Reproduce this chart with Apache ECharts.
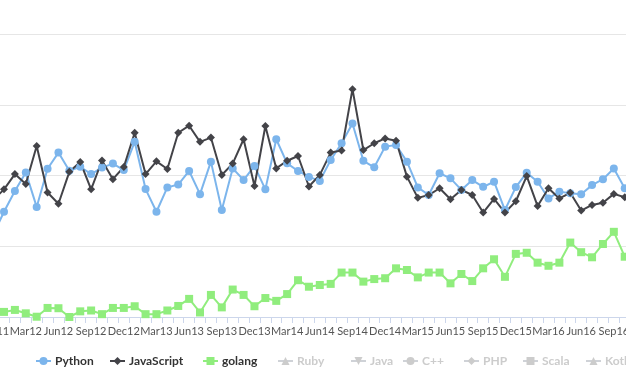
<!DOCTYPE html>
<html>
<head>
<meta charset="utf-8">
<script src="https://cdn.jsdelivr.net/npm/echarts@6/dist/echarts.min.js"></script>
<style>
html,body{margin:0;padding:0;width:626px;height:389px;overflow:hidden;background:#fff;position:relative;}
#c{position:absolute;left:-40px;top:0;width:700px;height:389px;}
</style>
</head>
<body>
<div id="c"></div>
<script>
const categories = ["Dec11",
 "Jan12","Feb12","Mar12","Apr12","May12","Jun12","Jul12","Aug12","Sep12","Oct12","Nov12","Dec12",
 "Jan13","Feb13","Mar13","Apr13","May13","Jun13","Jul13","Aug13","Sep13","Oct13","Nov13","Dec13",
 "Jan14","Feb14","Mar14","Apr14","May14","Jun14","Jul14","Aug14","Sep14","Oct14","Nov14","Dec14",
 "Jan15","Feb15","Mar15","Apr15","May15","Jun15","Jul15","Aug15","Sep15","Oct15","Nov15","Dec15",
 "Jan16","Feb16","Mar16","Apr16","May16","Jun16","Jul16","Aug16","Sep16","Oct16"];
const python = [29.0,37.2,44.5,51.1,38.9,52.4,58.1,51.7,53.1,50.5,52.8,54.2,51.9,61.9,45.2,37.2,45.8,46.8,51.6,43.4,54.9,37.8,52.5,48.4,53.4,45.1,62.8,54.3,51.6,49.5,48.1,55.5,61.4,68.4,55.2,52.9,60.2,60.8,54.9,45.8,43.1,50.8,49.0,44.9,48.4,46.0,47.8,37.8,45.9,51.0,47.8,41.9,44.3,43.7,43.4,46.6,48.7,52.5,45.5];
const javascript = [41.3,45.1,50.5,47.0,60.4,44.0,40.0,51.3,54.8,45.1,55.3,48.7,53.0,65.1,50.5,55.0,52.3,65.1,67.6,61.9,63.4,50.2,54.2,62.8,46.3,67.5,52.5,55.2,56.9,46.1,50.2,58.1,58.8,80.5,59.0,61.4,63.1,62.3,49.6,42.1,43.1,45.5,41.6,44.9,43.1,36.9,41.7,36.9,40.9,49.8,39.2,45.5,41.9,43.9,37.6,39.6,40.4,43.5,42.3];
const golang = [1.6,1.8,2.5,1.3,0.1,3.2,3.1,0.0,2.0,2.3,1.0,3.2,3.2,3.8,1.0,1.0,2.3,3.9,6.4,1.6,7.8,3.4,9.7,7.8,3.8,6.7,5.7,8.1,13.0,10.7,11.3,11.7,15.7,15.7,12.5,13.4,13.7,17.2,16.6,14.0,15.7,15.7,11.9,15.2,12.7,17.2,20.4,14.2,22.3,22.7,19.2,18.1,19.2,26.3,22.9,21.1,25.8,30.1,21.3];
const seriesNames = ["Python","JavaScript","golang","Ruby","Java","C++","PHP","Scala","Kotlin"];
const hiddenNames = ["Ruby","Java","C++","PHP","Scala","Kotlin"];

const colors = {Python:'#7cb5ec', JavaScript:'#434348', golang:'#90ed7d', Ruby:'#f7a35c', Java:'#8085e9', 'C++':'#f15c80', PHP:'#e4d354', Scala:'#2b908f', Kotlin:'#f45b5b'};
const symbols = {Python:'circle', JavaScript:'diamond', golang:'rect', Ruby:'triangle', Java:'path://M0,0L10,0L5,10Z', 'C++':'circle', PHP:'diamond', Scala:'rect', Kotlin:'triangle'};
const sizes = {Python:8, JavaScript:8, golang:8, Ruby:8, Java:8, 'C++':8, PHP:8, Scala:7, Kotlin:8};
const values = {Python:python, JavaScript:javascript, golang:golang};
const legendLeft = {Python:70, JavaScript:144, golang:237, Ruby:312, Java:385, 'C++':437, PHP:498, Scala:557, Kotlin:620};

const selected = {};
hiddenNames.forEach(n => selected[n] = false);

const chart = echarts.init(document.getElementById('c'), null, {renderer:'canvas'});
chart.setOption({
  animation:false,
  backgroundColor:'#fff',
  grid:{left:27.67, right:29.83, top:34, bottom:72, containLabel:false},
  legend: seriesNames.map(n => ({
    data:[n], left:legendLeft[n], top:350, itemWidth:15, itemHeight:10, itemGap:0,
    selected:selected, inactiveColor:'#cccccc',
    textStyle:{fontFamily:'Lato', fontWeight:'bold', fontSize:12, color:'#333333', padding:[0,0,0,-1]}
  })),
  xAxis:{
    type:'category', data:categories, boundaryGap:true,
    axisLine:{lineStyle:{color:'#ccd6eb', width:1}},
    axisTick:{show:true, interval:0, length:6, lineStyle:{color:'#ccd6eb'}},
    axisLabel:{interval:2, margin:9, fontFamily:'Lato', fontSize:11, color:'#555555'},
    splitLine:{show:false}
  },
  yAxis:{
    type:'value', min:0, max:100, interval:25,
    axisLabel:{show:false}, axisLine:{show:false}, axisTick:{show:false},
    splitLine:{lineStyle:{color:'#e6e6e6', width:1}}
  },
  series: seriesNames.map(n => ({
    name:n, type:'line', data: values[n] || [],
    symbol:symbols[n], symbolSize:sizes[n], showAllSymbol:true,
    itemStyle:{color:colors[n]},
    lineStyle:{color:colors[n], width:2},
    emphasis:{disabled:true}
  }))
});
</script>
</body>
</html>
